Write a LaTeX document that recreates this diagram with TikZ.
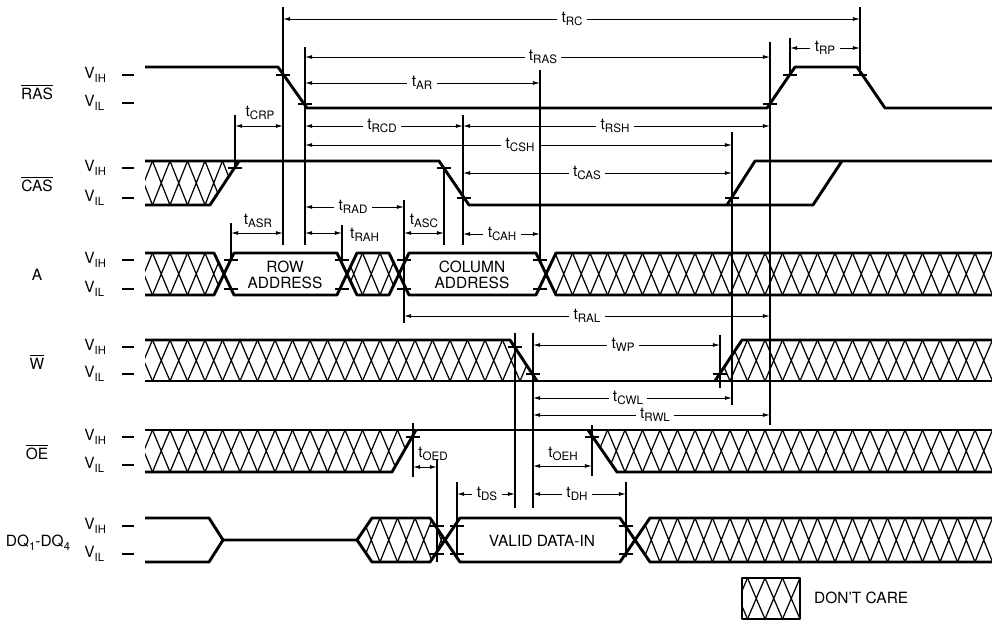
\documentclass[tikz,border=0pt]{standalone}
\usepackage{fontspec}
\setmainfont{TeX Gyre Heros}
\usetikzlibrary{arrows.meta}
\newcommand{\tsub}[1]{t\raisebox{-0.45ex}{\fontsize{6.6pt}{7pt}\selectfont #1}}
\newcommand{\vsub}[1]{V\raisebox{-0.45ex}{\fontsize{6.4pt}{7pt}\selectfont #1}}
\newcommand{\negsig}[1]{$\overline{\mbox{#1}}$}
\newcommand{\dcare}[3]{%
  \begin{scope}
    \clip #1;
    \foreach \hx in {100,117.5,...,1000}
      \draw[hatchl] (\hx,#3) -- (\hx+17.5,#2) (\hx,#2) -- (\hx+17.5,#3);
  \end{scope}}
\newcommand{\tdim}[5]{%
  \draw[dimline] (#1,#3) -- (#2,#3);
  \node[tlab] at (#5,#3) {\tsub{#4}};}
\newcommand{\tck}[2]{\draw[tick] (#1-7,#2) -- (#1+7,#2);}
\newcommand{\lvls}[2]{%
  \node[lvl] at (84,#1) {\vsub{IH}};
  \node[lvl] at (84,#2) {\vsub{IL}};
  \draw[lvlmark] (122,#1) -- (134,#1) (122,#2) -- (134,#2);}

\begin{document}
\begin{tikzpicture}[x=0.02cm,y=-0.02cm,>={Latex[length=4pt,width=2.2pt]},
  font=\fontsize{8.8}{9.2}\selectfont,
  sig/.style={line width=1.65pt,line join=round},
  hatchl/.style={line width=0.7pt},
  refl/.style={line width=0.65pt},
  dimline/.style={<->,line width=0.55pt},
  tlab/.style={fill=white,inner xsep=2.5pt,inner ysep=0.5pt},
  tick/.style={line width=1.1pt},
  lvl/.style={anchor=west,inner sep=0pt},
  lvlmark/.style={line width=0.9pt},
  sname/.style={inner sep=0pt}]
\useasboundingbox (0,0) rectangle (992,621);

% signal names and levels
\node[sname] (ras) at (37,92) {\negsig{RAS}};
\node[sname] (cas) at (37,184) {\negsig{CAS}};
\node[sname] (addr) at (37,275) {A};
\node[sname] (wr) at (37,362) {\negsig{W}};
\node[sname] (oe) at (37,452) {\negsig{OE}};
\node[sname] (dq) at (38,543) {DQ\raisebox{-0.45ex}{\fontsize{6.4pt}{7pt}\selectfont 1}-DQ\raisebox{-0.45ex}{\fontsize{6.4pt}{7pt}\selectfont 4}};
\lvls{75}{103}
\lvls{168}{198}
\lvls{260}{289}
\lvls{347}{374}
\lvls{437}{465}
\lvls{526}{554}

% RAS
\draw[sig] (145,67) -- (278,67) -- (307,108) -- (767,108) -- (795,67) -- (857,67) -- (885,108) -- (992,108);

% CAS
\dcare{(145,161) -- (239,161) -- (210,205) -- (145,205) -- cycle}{161}{205}
\draw[sig] (145,161) -- (439,161) -- (469,205) -- (813,205) -- (842,161);
\draw[sig] (145,205) -- (210,205) -- (239,161);
\draw[sig] (727,205) -- (755,161) -- (992,161);

% A
\dcare{(145,253) -- (214,253) -- (224,274) -- (214,295) -- (145,295) -- cycle}{253}{295}
\dcare{(347,274) -- (357,253) -- (389,253) -- (399,274) -- (389,295) -- (357,295) -- cycle}{253}{295}
\dcare{(546,274) -- (556,253) -- (992,253) -- (992,295) -- (556,295) -- cycle}{253}{295}
\draw[sig] (145,253) -- (214,253) -- (234,295) -- (337,295) -- (357,253) -- (389,253) -- (409,295) -- (536,295) -- (556,253) -- (992,253);
\draw[sig] (145,295) -- (214,295) -- (234,253) -- (337,253) -- (357,295) -- (389,295) -- (409,253) -- (536,253) -- (556,295) -- (992,295);
\node[align=center] (rowad) at (285,275) {ROW\\ADDRESS};
\node[align=center] (colad) at (472,275) {COLUMN\\ADDRESS};

% W
\dcare{(145,340) -- (510,340) -- (537,381) -- (145,381) -- cycle}{340}{381}
\dcare{(715,381) -- (742,340) -- (992,340) -- (992,381) -- cycle}{340}{381}
\draw[sig] (145,340) -- (510,340) -- (537,381);
\draw[sig] (145,381) -- (992,381);
\draw[sig] (715,381) -- (742,340) -- (992,340);

% OE
\dcare{(145,430) -- (416,430) -- (392,472) -- (145,472) -- cycle}{430}{472}
\dcare{(588,430) -- (992,430) -- (992,472) -- (617,472) -- cycle}{430}{472}
\draw[sig] (145,430) -- (992,430);
\draw[sig] (145,472) -- (392,472) -- (416,430);
\draw[sig] (588,430) -- (617,472) -- (992,472);

% DQ
\dcare{(357,540) -- (372,518) -- (430,518) -- (445,540) -- (430,562) -- (372,562) -- cycle}{518}{562}
\dcare{(635,540) -- (650,518) -- (992,518) -- (992,562) -- (650,562) -- cycle}{518}{562}
\draw[sig] (145,518) -- (209,518) -- (223,540) -- (209,562) -- (145,562);
\draw[sig] (223,540) -- (357,540) -- (372,518) -- (430,518) -- (460,562) -- (620,562) -- (650,518) -- (992,518);
\draw[sig] (357,540) -- (372,562) -- (430,562) -- (460,518) -- (620,518) -- (650,562) -- (992,562);
\node (valid) at (542,541) {VALID DATA-IN};

% reference lines
\foreach \rx/\ra/\rb in {283/7/245, 305/47/245, 235/115/168, 231/223/260, 342/225/260,
    404/200/323, 444/168/245, 463/115/245, 540/70/260, 732/132/405, 770/42/425,
    790/38/75, 860/7/75, 515/333/508, 533/333/508, 720/335/388, 413/423/477,
    437/460/562, 592/425/476, 457/482/558, 626/482/557}
  \draw[refl] (\rx,\ra) -- (\rx,\rb);

% ticks
\foreach \kx/\ky in {283/75, 305/104, 770/104, 790/75, 860/75,
    235/168, 444/168, 464/198, 732/198,
    231/260, 231/289, 342/260, 342/289, 404/260, 404/289, 540/260, 540/289,
    515/347, 533/374, 720/374, 413/437, 592/437,
    437/526, 437/554, 457/526, 457/554, 626/526, 626/554}
  {\tck{\kx}{\ky}}

% timing intervals
\tdim{283}{860}{19}{RC}{572}
\tdim{305}{770}{57}{RAS}{543}
\tdim{790}{860}{48}{RP}{825}
\tdim{305}{540}{83}{AR}{422}
\tdim{305}{463}{126}{RCD}{382}
\tdim{463}{770}{126}{RSH}{615}
\tdim{305}{732}{145}{CSH}{520}
\tdim{463}{732}{173}{CAS}{587}
\tdim{305}{404}{207}{RAD}{353}
\tdim{463}{540}{234}{CAH}{502}
\tdim{404}{770}{316}{RAL}{587}
\tdim{533}{720}{345}{WP}{623}
\tdim{533}{732}{398}{CWL}{628}
\tdim{533}{770}{415}{RWL}{655}
\tdim{457}{515}{494}{DS}{487}
\tdim{533}{626}{494}{DH}{577}
\draw[dimline] (235,126) -- (283,126);
\node (tcrp) at (260,113) {\tsub{CRP}};
\draw[dimline] (231,233) -- (283,233);
\node (tasr) at (258,221) {\tsub{ASR}};
\draw[dimline] (305,233) -- (342,233);
\node[anchor=west] (trah) at (344,235) {\tsub{RAH}};
\draw[dimline] (404,233) -- (444,233);
\node (tasc) at (424,221) {\tsub{ASC}};
\draw[dimline] (413,467) -- (437,467);
\node (toed) at (433,454) {\tsub{OED}};
\draw[dimline] (533,466) -- (592,466);
\node (toeh) at (563,454) {\tsub{OEH}};

% legend
\dcare{(742,578) rectangle (800,619)}{578}{619}
\draw[sig] (742,578) rectangle (800,619);
\node[anchor=west] (dclab) at (808,598) {DON'T CARE};
\end{tikzpicture}
\end{document}
